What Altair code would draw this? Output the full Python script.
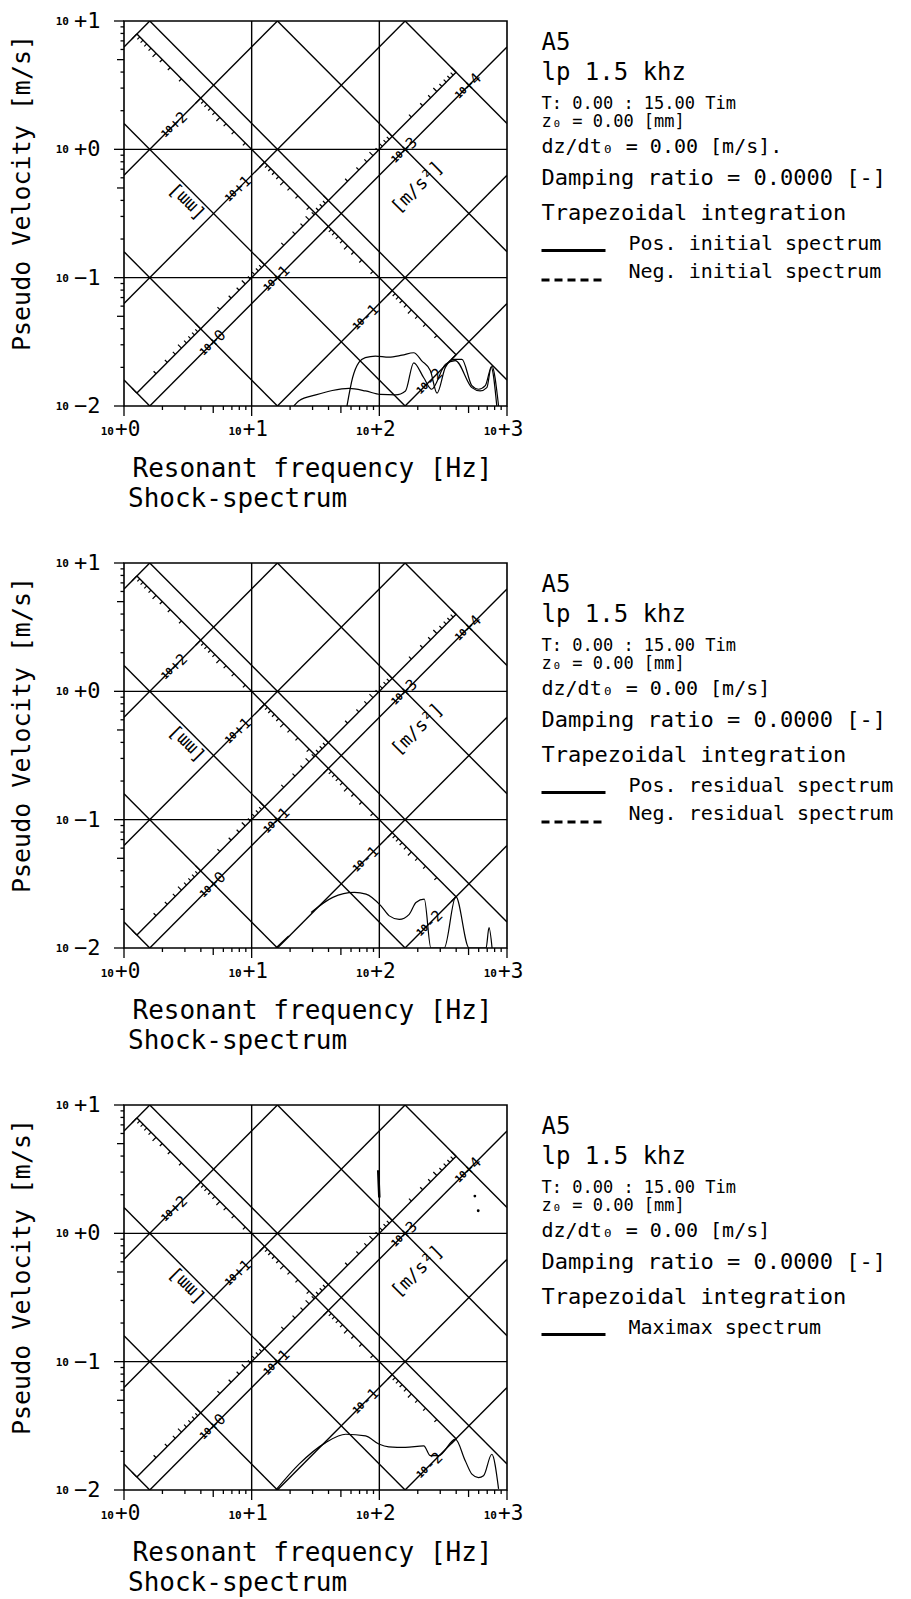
import math
import pandas as pd
import altair as alt

FONT = "DejaVu Sans Mono"

# ---------------- data ----------------
FREQ_DECADES = [1, 10, 100, 1000]
FREQ_EXP = ["+0", "+1", "+2", "+3"]
VEL_DECADES = [0.01, 0.1, 1, 10]
VEL_EXP = ["−2", "−1", "+0", "+1"]
MINOR_K = [2, 3, 4, 6, 7, 8, 9]
MID_K = [5]
FREQ_GRID = [10, 100]
VEL_GRID = [0.1, 1]

DISP_LINES_MM = [0.01, 0.1, 1, 10, 100, 1000]
ACC_LINES = [0.1, 1, 10, 100, 1000, 10000]

DISP_RULER_VF = 10.0          # displacement ruler: V * f = const
ACC_RULER_V_PER_F = 0.01      # acceleration ruler: V / f = const
DISP_RULER_RANGE_MM = [1000, 0.01]
ACC_RULER_RANGE = [0.1, 10000]
DISP_RULER_EXP = [-2, -1, 0, 1, 2]
ACC_RULER_EXP = [-1, 0, 1, 2, 3]
DISP_LABEL_EXP = [2, 1, -1, -2]
DISP_LABEL_AT_ACC = 25.0
ACC_LABEL_EXP = [0, 1, 3, 4]
ACC_LABEL_AT_DISP_MM = 1.0

# panel 1 : initial spectrum
P1_POS_F = [55.8, 61.7, 69.2, 77.6, 93.3, 118.6, 150.7, 185.8, 215.8, 251.2, 283.1, 328.9, 382, 443.6, 530.9, 598.4, 676.1, 760.3, 859]
P1_POS_V = [0.0100, 0.0166, 0.0219, 0.0238, 0.0245, 0.0240, 0.0249, 0.0260, 0.0224, 0.0188, 0.0126, 0.0200, 0.0231, 0.0231, 0.0144, 0.0135, 0.0144, 0.0205, 0.0100]
P1_NEG_F = [21.4, 23.5, 31.8, 42.8, 57.8, 78.0, 102.1, 134, 160.3, 185.8, 222.8, 257, 328.9, 393.6, 530.9, 616.6, 695, 751.6, 831.8]
P1_NEG_V = [0.0100, 0.0110, 0.0122, 0.0132, 0.0137, 0.0131, 0.0123, 0.0122, 0.0131, 0.0217, 0.0166, 0.0135, 0.0211, 0.0226, 0.0139, 0.0131, 0.0139, 0.0200, 0.0100]

# panel 2 : residual spectrum
P2_POS_F = [29.2, 43.2, 63.8, 78.7, 103, 119.7, 143.2, 171.4, 193.6, 224.9, 253.5, 322.1, 397.2, 504.7, 685.5, 722.8, 763.8]
P2_POS_V = [0.0189, 0.0248, 0.0271, 0.0263, 0.0213, 0.0178, 0.0167, 0.0183, 0.0226, 0.0240, 0.0100, 0.0100, 0.0251, 0.0100, 0.0100, 0.0144, 0.0100]
P2_NEG_F = [15.5, 19.5]
P2_NEG_V = [0.0100, 0.0124]

# panel 3 : maximax spectrum
P3_MAX_F = [15.5, 23.5, 38.0, 54.5, 78.0, 99.1, 118.6, 160, 222.8, 251, 292, 393.6, 471, 530.9, 598.4, 654.6, 760.3, 859]
P3_MAX_V = [0.0100, 0.0159, 0.0234, 0.0272, 0.0264, 0.0228, 0.0217, 0.0215, 0.0221, 0.0185, 0.0185, 0.0249, 0.0169, 0.0133, 0.0125, 0.0129, 0.0190, 0.0102]
P3_MARK_F = [98, 99, 100]
P3_MARK_V = [3.1, 2.4, 1.9]
P3_DOT_F = [560, 595]
P3_DOT_V = [1.95, 1.5]

INFO_1 = ["A5", "lp 1.5 khz", "T: 0.00 : 15.00 Tim", "z₀ = 0.00 [mm]", "dz/dt₀ = 0.00 [m/s].",
          "Damping ratio = 0.0000 [-]", "Trapezoidal integration"]
INFO_2 = ["A5", "lp 1.5 khz", "T: 0.00 : 15.00 Tim", "z₀ = 0.00 [mm]", "dz/dt₀ = 0.00 [m/s]",
          "Damping ratio = 0.0000 [-]", "Trapezoidal integration"]
INFO_3 = INFO_2
LEGEND_1 = ["Pos. initial spectrum", "Neg. initial spectrum"]
LEGEND_2 = ["Pos. residual spectrum", "Neg. residual spectrum"]
LEGEND_3 = ["Maximax spectrum"]

X_TITLE = "Resonant frequency [Hz]"
Y_TITLE = "Pseudo Velocity [m/s]"
SUB_TITLE = "Shock-spectrum"
UNIT_D = "[mm]"
UNIT_A = "[m/s²]"

# ---------------- layout ----------------
W, H = 383, 385
DEC = 128.0
TWO_PI = 2 * math.pi
XS = alt.Scale(type="log", domain=[1, 1000], nice=False)
YS = alt.Scale(type="log", domain=[0.01, 10], nice=False)
INFO_Y = [22, 52, 83, 101, 126, 156.5, 192]
INFO_SIZE = [24, 24, 17, 17, 20, 22, 22]
LEG_TEXT_Y = [222.5, 251]
LEG_LINE_Y = [229.5, 259]


def X(field="f"):
    return alt.X(f"{field}:Q", scale=XS, axis=None)


def Y(field="V"):
    return alt.Y(f"{field}:Q", scale=YS, axis=None)


def seg_layer(rows, width, dash=None):
    df = pd.DataFrame(rows, columns=["x1", "y1", "x2", "y2"])
    kw = dict(color="black", strokeWidth=width, clip=True)
    if dash:
        kw["strokeDash"] = dash
    return alt.Chart(df).mark_rule(**kw).encode(x=X("x1"), y=Y("y1"), x2="x2:Q", y2="y2:Q")


def text_px(t, x, y, size, angle=0, align="left", weight="normal"):
    return alt.Chart(pd.DataFrame({"t": [t]})).mark_text(
        font=FONT, fontSize=size, angle=angle, align=align, baseline="middle",
        fontWeight=weight, color="black").encode(text="t:N", x=alt.value(x), y=alt.value(y))


def rule_px(x1, y1, x2, y2, width=1.2, dash=None):
    kw = dict(color="black", strokeWidth=width)
    if dash:
        kw["strokeDash"] = dash
    return alt.Chart(pd.DataFrame({"a": [0]})).mark_rule(**kw).encode(
        x=alt.value(x1), y=alt.value(y1), x2=alt.value(x2), y2=alt.value(y2))


def curve(f, v, width=1.2, dash=None):
    df = pd.DataFrame({"f": f, "V": v, "i": list(range(len(f)))})
    kw = dict(color="black", strokeWidth=width, clip=True, interpolate="monotone")
    if dash:
        kw["strokeDash"] = dash
    return alt.Chart(df).mark_line(**kw).encode(x=X(), y=Y(), order="i:Q")


def grid_rows():
    rows = [(f, 0.01, f, 10) for f in FREQ_GRID] + [(1, v, 1000, v) for v in VEL_GRID]
    for d in DISP_LINES_MM:
        dm = d / 1000
        flo = max(1, 0.01 / (TWO_PI * dm))
        fhi = min(1000, 10 / (TWO_PI * dm))
        if flo < fhi:
            rows.append((flo, TWO_PI * flo * dm, fhi, TWO_PI * fhi * dm))
    for a in ACC_LINES:
        flo = max(1, a / (TWO_PI * 10))
        fhi = min(1000, a / (TWO_PI * 0.01))
        if flo < fhi:
            rows.append((flo, a / (TWO_PI * flo), fhi, a / (TWO_PI * fhi)))
    return rows


def ruler_rows():
    f_d = [math.sqrt(DISP_RULER_VF / (TWO_PI * d / 1000)) for d in DISP_RULER_RANGE_MM]
    f_a = [math.sqrt(a / (TWO_PI * ACC_RULER_V_PER_F)) for a in ACC_RULER_RANGE]
    return [(f_d[0], DISP_RULER_VF / f_d[0], f_d[1], DISP_RULER_VF / f_d[1]),
            (f_a[0], ACC_RULER_V_PER_F * f_a[0], f_a[1], ACC_RULER_V_PER_F * f_a[1])]


def tick_len(k):
    return 7.0 if k == 1 else (5.0 if k == 5 else 3.5)


def ruler_tick_rows():
    rows = []
    vals = [(k, k * 10 ** n) for n in DISP_RULER_EXP for k in range(1, 10)] + [(1, 1000)]
    for k, d in vals:
        f = math.sqrt(DISP_RULER_VF / (TWO_PI * d / 1000))
        v = DISP_RULER_VF / f
        dl = tick_len(k) / (math.sqrt(2) * DEC)
        rows.append((f, v, f * 10 ** -dl, v * 10 ** -dl))
    vals = [(k, k * 10 ** n) for n in ACC_RULER_EXP for k in range(1, 10)] + [(1, 10000)]
    for k, a in vals:
        f = math.sqrt(a / (TWO_PI * ACC_RULER_V_PER_F))
        v = ACC_RULER_V_PER_F * f
        dl = tick_len(k) / (math.sqrt(2) * DEC)
        rows.append((f, v, f * 10 ** -dl, v * 10 ** dl))
    return rows


def ruler_label_df():
    recs = []
    for n in DISP_LABEL_EXP:
        dm = 10 ** n / 1000
        v = math.sqrt(DISP_LABEL_AT_ACC * dm)
        recs.append((DISP_LABEL_AT_ACC / (TWO_PI * v), v, ("+" if n >= 0 else "-") + str(abs(n))))
    for n in ACC_LABEL_EXP:
        a = 10 ** n
        v = math.sqrt(a * ACC_LABEL_AT_DISP_MM / 1000)
        recs.append((a / (TWO_PI * v), v, ("+" if n >= 0 else "-") + str(abs(n))))
    df = pd.DataFrame(recs, columns=["f", "V", "e"])
    df["b"] = "10"
    return df


def unit_layer(t, acc, disp_mm, angle):
    v = math.sqrt(acc * disp_mm / 1000)
    f = acc / (TWO_PI * v)
    return alt.Chart(pd.DataFrame({"f": [f], "V": [v], "t": [t]})).mark_text(
        font=FONT, fontSize=18, angle=angle, align="center", baseline="middle", color="black"
    ).encode(x=X(), y=Y(), text="t:N")


def axis_layers():
    L = []
    minor_f = [k * 10 ** n for n in range(0, 3) for k in MINOR_K]
    mid_f = [k * 10 ** n for n in range(0, 3) for k in MID_K]
    minor_v = [k * 10.0 ** n for n in range(-2, 1) for k in MINOR_K]
    mid_v = [k * 10.0 ** n for n in range(-2, 1) for k in MID_K]
    for vals, ln in [(minor_f, 4), (mid_f, 7), (FREQ_DECADES, 10)]:
        L.append(alt.Chart(pd.DataFrame({"f": vals})).mark_rule(color="black", strokeWidth=1.3)
                 .encode(x=X(), y=alt.value(H), y2=alt.value(H + ln)))
    for vals, ln in [(minor_v, 3.5), (mid_v, 7), (VEL_DECADES, 10)]:
        L.append(alt.Chart(pd.DataFrame({"V": vals})).mark_rule(color="black", strokeWidth=1.3)
                 .encode(y=Y(), x=alt.value(0), x2=alt.value(-ln)))
    xl = pd.DataFrame({"f": FREQ_DECADES, "e": FREQ_EXP, "b": ["10"] * 4})
    L.append(alt.Chart(xl).mark_text(font=FONT, fontSize=21, align="left", baseline="middle", dx=-9)
             .encode(x=X(), y=alt.value(H + 24), text="e:N"))
    L.append(alt.Chart(xl).mark_text(font=FONT, fontSize=11, fontWeight="bold", align="right",
                                     baseline="middle", dx=-10)
             .encode(x=X(), y=alt.value(H + 26), text="b:N"))
    yl = pd.DataFrame({"V": VEL_DECADES, "e": VEL_EXP, "b": ["10"] * 4})
    L.append(alt.Chart(yl).mark_text(font=FONT, fontSize=22, align="left", baseline="middle")
             .encode(y=Y(), x=alt.value(-50), text="e:N"))
    L.append(alt.Chart(yl).mark_text(font=FONT, fontSize=11, fontWeight="bold", align="right",
                                     baseline="middle", dy=1)
             .encode(y=Y(), x=alt.value(-55), text="b:N"))
    return L


def panel(curves, info, legend):
    layers = [seg_layer(grid_rows(), 1.4), seg_layer(ruler_rows(), 1.4),
              seg_layer(ruler_tick_rows(), 1.2)]
    lab = ruler_label_df()
    layers.append(alt.Chart(lab).mark_text(font=FONT, fontSize=15, angle=315, align="left",
                                           baseline="middle", dx=-4.5)
                  .encode(x=X(), y=Y(), text="e:N"))
    layers.append(alt.Chart(lab).mark_text(font=FONT, fontSize=10, fontWeight="bold", angle=315,
                                           align="right", baseline="middle", dx=-5)
                  .encode(x=X(), y=Y(), text="b:N"))
    layers.append(unit_layer(UNIT_D, 7.7, 20, 225))
    layers.append(unit_layer(UNIT_A, 630, 0.4, 315))
    layers += curves
    layers += axis_layers()
    layers.append(text_px(Y_TITLE, -102.5, 172, 25, angle=270, align="center"))
    layers.append(text_px(X_TITLE, 188.5, H + 63, 26, align="center"))
    layers.append(text_px(SUB_TITLE, 4, H + 93, 26))
    x0 = W + 34.5
    for t, y, s in zip(info, INFO_Y, INFO_SIZE):
        layers.append(text_px(t, x0, y, s))
    for i, t in enumerate(legend):
        dash = None if i == 0 else [8, 5]
        layers.append(rule_px(x0, LEG_LINE_Y[i], x0 + 64, LEG_LINE_Y[i], width=2.8, dash=dash))
        layers.append(text_px(t, x0 + 87, LEG_TEXT_Y[i], 20))
    return alt.layer(*layers).properties(width=W, height=H)


p1 = panel([curve(P1_POS_F, P1_POS_V), curve(P1_NEG_F, P1_NEG_V)], INFO_1, LEGEND_1)
p2 = panel([curve(P2_POS_F, P2_POS_V), curve(P2_NEG_F, P2_NEG_V)], INFO_2, LEGEND_2)
dots = alt.Chart(pd.DataFrame({"f": P3_DOT_F, "V": P3_DOT_V})).mark_circle(
    color="black", size=8, opacity=1).encode(x=X(), y=Y())
p3 = panel([curve(P3_MAX_F, P3_MAX_V), curve(P3_MARK_F, P3_MARK_V, width=2.5), dots], INFO_3, LEGEND_3)

chart = alt.vconcat(p1, p2, p3, spacing=157, bounds="flush").properties(
    padding={"left": 0, "top": 1, "right": 5, "bottom": 5}
).configure_view(stroke="black", strokeWidth=1.6)

chart.save("out.html", embed_options={"renderer": "svg", "actions": False})
